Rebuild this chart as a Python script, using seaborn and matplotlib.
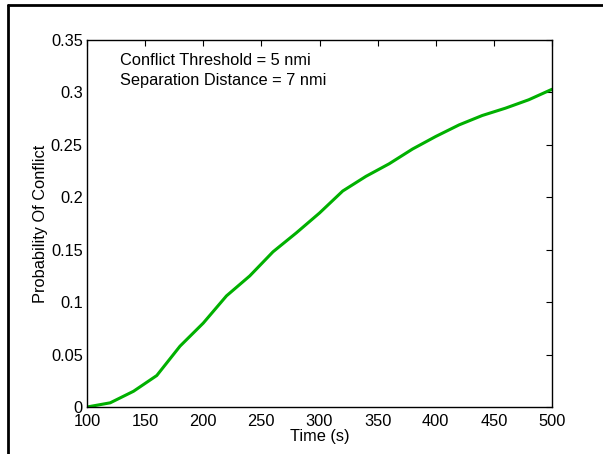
import numpy as np
import pandas as pd
import matplotlib
matplotlib.use('Agg')
import matplotlib.pyplot as plt
from matplotlib.lines import Line2D
import seaborn as sns

# Datos
time_s = [100, 120, 140, 160, 180, 200, 220, 240, 260, 280, 300,
          320, 340, 360, 380, 400, 420, 440, 460, 480, 500]
prob_conflict = [0.000, 0.004, 0.015, 0.030, 0.058, 0.080, 0.106, 0.125, 0.148, 0.166, 0.185,
                 0.206, 0.220, 0.232, 0.246, 0.258, 0.269, 0.278, 0.285, 0.293, 0.303]
x_ticks = [100, 150, 200, 250, 300, 350, 400, 450, 500]
y_ticks = [0, 0.05, 0.1, 0.15, 0.2, 0.25, 0.3, 0.35]
y_tick_labels = ['0', '0.05', '0.1', '0.15', '0.2', '0.25', '0.3', '0.35']

df = pd.DataFrame({'Time': time_s, 'Prob': prob_conflict})

sns.set_style('white')
plt.rcParams['font.family'] = ['Liberation Sans', 'DejaVu Sans']

fs = 11.8
fig = plt.figure(figsize=(6.03, 4.54), dpi=100)
ax = fig.add_axes([87 / 603, 1 - 407 / 454, 465 / 603, 367 / 454])

sns.lineplot(data=df, x='Time', y='Prob', ax=ax, color='#00b000', linewidth=2.2)

ax.set_xlim(100, 500)
ax.set_ylim(0, 0.35)
ax.set_xticks(x_ticks)
ax.set_yticks(y_ticks)
ax.set_yticklabels(y_tick_labels)
ax.tick_params(direction='in', length=4, width=0.8, top=True, right=True,
               labelsize=fs, colors='black', labelcolor='black', pad=3)
ax.tick_params(axis='x', pad=5)
for s in ax.spines.values():
    s.set_color('black')
    s.set_linewidth(1.0)
    s.set_visible(True)

ax.set_xlabel('Time (s)', fontsize=fs, labelpad=0, color='black')
ax.set_ylabel('Probability Of Conflict', fontsize=fs, labelpad=2, color='black')

ax.text(0.071, 0.965, 'Conflict Threshold = 5 nmi\nSeparation Distance = 7 nmi',
        transform=ax.transAxes, ha='left', va='top', fontsize=fs, linespacing=1.4,
        color='black')

# Marco exterior (solo arriba e izquierda)
fig.add_artist(Line2D([8 / 603, 1], [1 - 5 / 454, 1 - 5 / 454], color='black', linewidth=2,
                      transform=fig.transFigure))
fig.add_artist(Line2D([8 / 603, 8 / 603], [0, 1 - 5 / 454], color='black', linewidth=2,
                      transform=fig.transFigure))

fig.savefig('out.png', dpi=100)
